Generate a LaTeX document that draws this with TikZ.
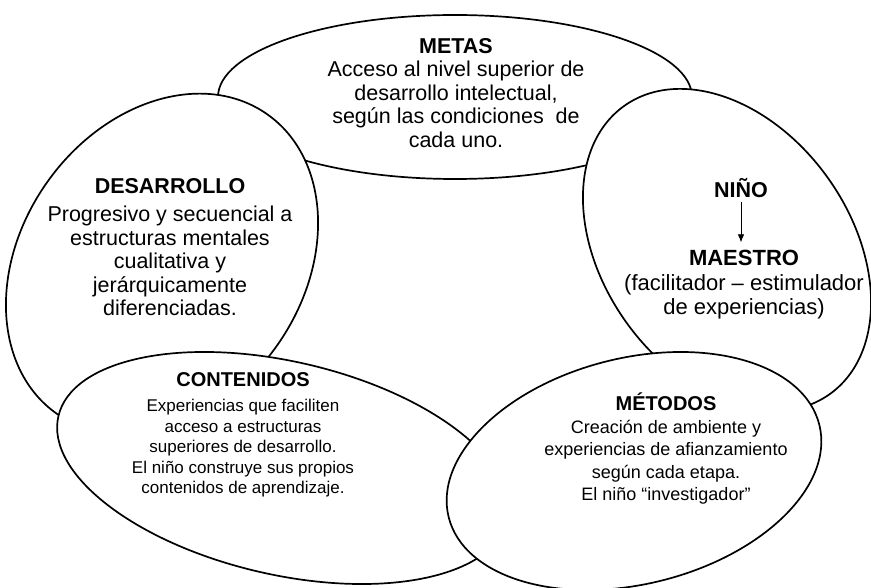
\documentclass[tikz,border=0pt]{standalone}
\usepackage{fontspec}
\setmainfont{Liberation Sans}
\usetikzlibrary{shapes.geometric,arrows.meta}

\tikzset{
  bubble/.style={draw, ellipse, fill=white, line width=1.7pt, inner sep=0pt},
  blurb/.style={align=center, inner sep=2pt, font=\fontsize{21.5}{23.5}\selectfont},
}

\begin{document}
\begin{tikzpicture}[x=1pt,y=1pt]
        \useasboundingbox (0,0) rectangle (871,587);
        \node[bubble, minimum width=474pt, minimum height=164pt] (metas) at (455,490) {};
        \node[bubble, minimum width=366pt, minimum height=282pt, rotate=55] (desarrollo) at (162,323) {};
        \node[bubble, minimum width=354pt, minimum height=248pt, rotate=-54.5] (ninobox) at (727,337) {};
        \node[bubble, minimum width=461pt, minimum height=213pt, rotate=-13] (contenidos) at (283,119) {};
        \node[bubble, minimum width=382pt, minimum height=226pt, rotate=14] (metodos) at (634,116) {};

        \node[blurb] (metastext) at (456,494) {{\bfseries METAS}\\Acceso al nivel superior de\\desarrollo intelectual,\\según las condiciones~ de\\cada uno.};
        \node[blurb] (desarrollotext) at (170,340) {{\bfseries DESARROLLO}\\[5pt]Progresivo y secuencial a\\estructuras mentales\\cualitativa y\\jerárquicamente\\diferenciadas.};
        \node[blurb] (nino) at (741,399) {\bfseries NIÑO};
        \node[blurb, font=\fontsize{22}{24.5}\selectfont] (maestro) at (744,302) {{\bfseries MAESTRO}\\(facilitador -- estimulador\\de experiencias)};
        \node[blurb, font=\fontsize{17}{20.5}\selectfont] (contenidostext) at (243,152) {{\fontsize{20}{20.5}\selectfont\bfseries CONTENIDOS}\\[5pt]Experiencias que faciliten\\acceso a estructuras\\superiores de desarrollo.\\El niño construye sus propios\\contenidos de aprendizaje.};
        \node[blurb, font=\fontsize{18}{22.5}\selectfont] (metodostext) at (666,138) {{\fontsize{20}{22.5}\selectfont\bfseries MÉTODOS}\\Creación de ambiente y\\experiencias de afianzamiento\\según cada etapa.\\El niño “investigador”};

        \draw[-{Latex[length=8pt,width=6.5pt]}, line width=0.8pt, shorten <=2pt, shorten >=6pt] (nino.south) -- (nino.south |- maestro.north);
\end{tikzpicture}
\end{document}
